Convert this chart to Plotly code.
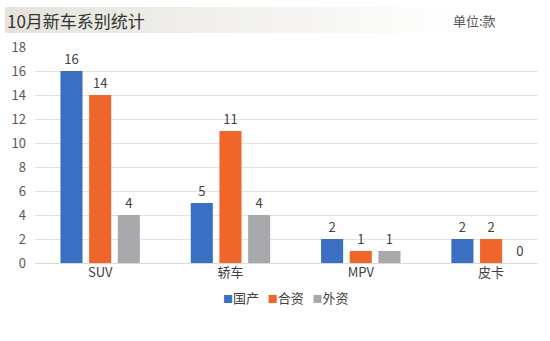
import plotly.graph_objects as go

# Vehicle segment statistics for October (unit: models)
categories = ["SUV", "轿车", "MPV", "皮卡"]
series_names = ["国产", "合资", "外资"]
domestic = [16, 5, 2, 2]
joint_venture = [14, 11, 1, 2]
foreign = [4, 4, 1, 0]
y_ticks = [0, 2, 4, 6, 8, 10, 12, 14, 16, 18]

colors = ["#3B6FC3", "#F0652A", "#A7A9AC"]
values = [domestic, joint_venture, foreign]

FONT = "Noto Sans CJK SC"

fig = go.Figure()
for name, vals, col in zip(series_names, values, colors):
    fig.add_trace(go.Bar(
        x=categories, y=vals, name=name,
        marker=dict(color=col, line=dict(width=0)),
        text=vals, textposition="outside", cliponaxis=False,
        textfont=dict(family=FONT, size=13, color="#404040"),
        showlegend=False,
    ))

# Plot area in pixels: x 35..538, y 47..263
PL, PW, PB, PH = 35, 503, 263, 216


def px_x(x):
    return (x - PL) / PW


def px_y(y):
    return (PB - y) / PH


# Title band: light beige fading to white
shapes = []
n_strips = 60
x0, x1 = 5, 545
left = (229, 227, 220)
for i in range(n_strips):
    t = i / (n_strips - 1)
    k = min(1.0, t / 0.85)
    c = tuple(int(round(left[j] + (255 - left[j]) * k)) for j in range(3))
    sx0 = x0 + (x1 - x0) * i / n_strips
    sx1 = x0 + (x1 - x0) * (i + 1) / n_strips + 0.5
    shapes.append(dict(
        type="rect", xref="paper", yref="paper", layer="below",
        x0=px_x(sx0), x1=px_x(sx1), y0=px_y(33), y1=px_y(7),
        fillcolor="rgb(%d,%d,%d)" % c, line=dict(width=0),
    ))

legend_html = "   ".join(
    "<span style='color:%s;font-size:10px'>■</span>%s" % (c, n)
    for c, n in zip(colors, series_names)
)

fig.update_layout(
    width=550, height=341,
    margin=dict(l=PL, r=550 - PL - PW, t=PB - PH, b=341 - PB, pad=0),
    paper_bgcolor="white", plot_bgcolor="white",
    barmode="group", bargap=0.34, bargroupgap=0.23,
    font=dict(family=FONT, size=13, color="#404040"),
    shapes=shapes,
    xaxis=dict(
        range=[-0.5, 3.36], showgrid=False, zeroline=False, showline=False,
        ticks="", tickfont=dict(family=FONT, size=13, color="#404040"),
        fixedrange=True,
    ),
    yaxis=dict(
        range=[0, 18], tickvals=y_ticks, showgrid=True, gridcolor="#E3E3E3",
        gridwidth=1, zeroline=True, zerolinecolor="#DADADA", zerolinewidth=1,
        showline=False, ticks="", ticklabelstandoff=8,
        tickfont=dict(family=FONT, size=13, color="#595959"),
        fixedrange=True,
    ),
    annotations=[
        dict(text="10月新车系别统计", xref="paper", yref="paper",
             x=px_x(5), y=px_y(20), xanchor="left", yanchor="middle",
             showarrow=False, font=dict(family=FONT, size=17, color="#333333")),
        dict(text="单位:款", xref="paper", yref="paper",
             x=px_x(498), y=px_y(21), xanchor="right", yanchor="middle",
             showarrow=False, font=dict(family=FONT, size=13, color="#555555")),
        dict(text=legend_html, xref="paper", yref="paper",
             x=px_x(286), y=px_y(297), xanchor="center", yanchor="middle",
             showarrow=False, font=dict(family=FONT, size=13, color="#404040")),
    ],
)

fig.write_html("out.html")
